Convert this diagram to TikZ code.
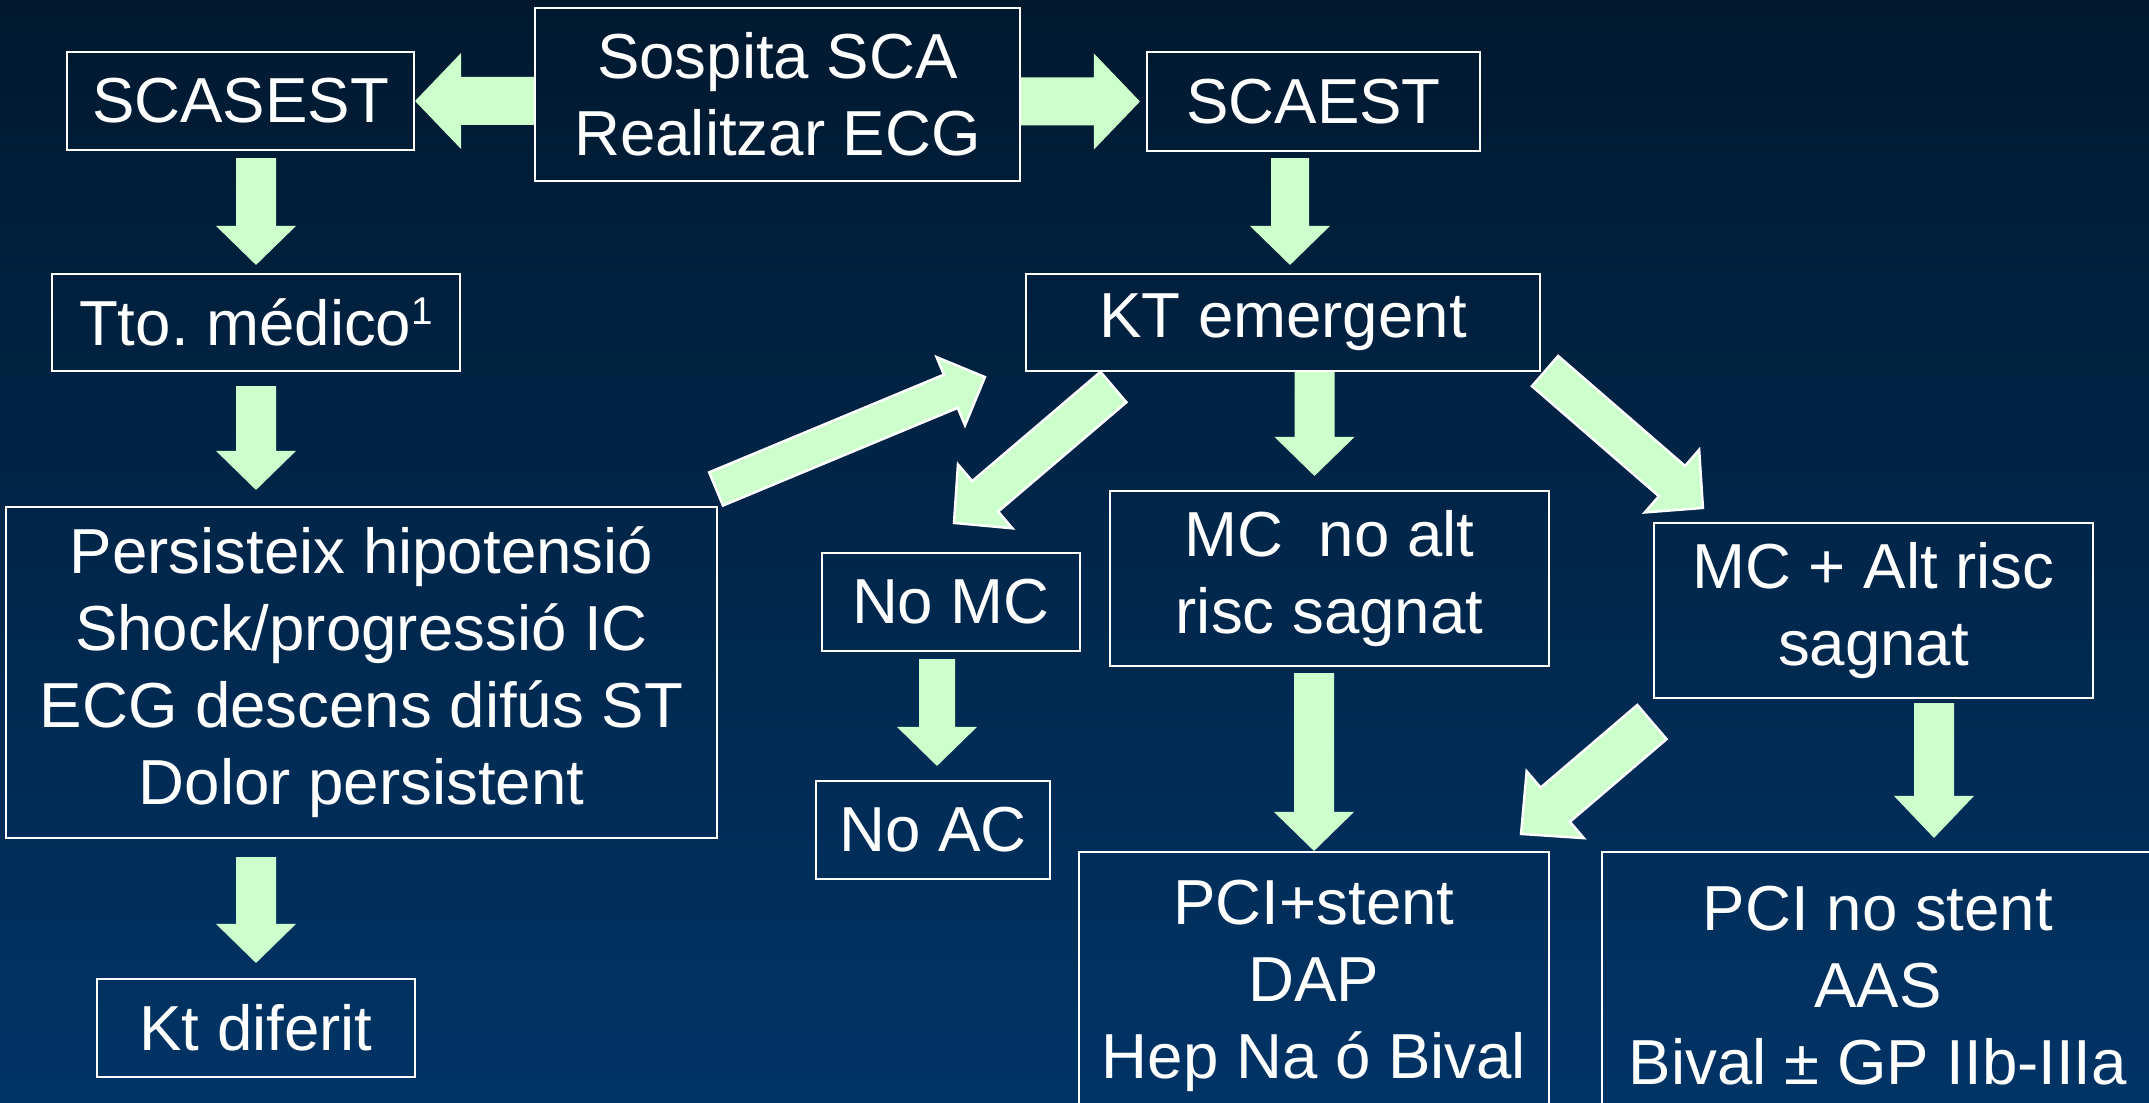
\documentclass[tikz,border=0pt]{standalone}
\usepackage{fontspec}
\setmainfont{Liberation Sans}
\usepackage{tikz}
\usetikzlibrary{calc, positioning}

\definecolor{bgtop}{HTML}{00192F}
\definecolor{bgbot}{HTML}{003466}
\definecolor{arrowgreen}{HTML}{CCFFCC}
\newcommand{\boxfont}{\fontsize{18.1}{21.9}\selectfont}
\newcommand{\supone}{\raisebox{0.33em}{\fontsize{11}{11}\selectfont 1}}

% block arrow: tail point, tip point
\newcommand{\blockarrow}[3][]{%
  \begin{scope}[#1]
    \coordinate (ba-s) at (#2);
    \coordinate (ba-e) at (#3);
    \coordinate (ba-b) at ($(ba-e)!\balen!(ba-s)$);
    \path[flow, #1] ($(ba-s)!\bashaft!90:(ba-e)$) -- ($(ba-b)!\bashaft!90:(ba-e)$)
      -- ($(ba-b)!\bahead!90:(ba-e)$) -- (ba-e) -- ($(ba-b)!\bahead!-90:(ba-e)$)
      -- ($(ba-b)!\bashaft!-90:(ba-e)$) -- ($(ba-s)!\bashaft!-90:(ba-e)$) -- cycle;
  \end{scope}}

\begin{document}
\begin{tikzpicture}
\tikzset{
  ba shaft/.store in=\bashaft, ba head/.store in=\bahead, ba len/.store in=\balen,
  ba shaft=0.2cm, ba head=0.4cm, ba len=0.39cm,
  flow/.style={fill=arrowgreen},
  flowedge/.style={draw=white, line width=0.7pt, line join=miter},
  wide/.style={ba shaft=0.24cm, ba head=0.48cm, ba len=0.46cm},
  box/.style={draw=white, line width=0.6pt, inner sep=0pt, align=center,
    text=white, font=\boxfont},
}
  \useasboundingbox (0,0) rectangle (21.49,-11.03);
  \clip (0,0) rectangle (21.49,-11.03);
  \shade[top color=bgtop, bottom color=bgbot] (0,0) rectangle (21.49,-11.03);

  % top row
  \node[box, minimum width=4.85cm, minimum height=1.73cm] (sospita) at (7.775,-0.945)
    {Sospita SCA\\Realitzar ECG};
  \node[box, minimum width=3.47cm, minimum height=0.98cm] (scasest) at (2.405,-1.01) {SCASEST};
  \node[box, minimum width=3.33cm, minimum height=0.99cm] (scaest) at (13.135,-1.015) {SCAEST};

  % left branch
  \node[box, minimum width=4.08cm, minimum height=0.97cm] (tto) at (2.56,-3.225)
    {Tto.\ médico\supone};
  \node[box, minimum width=7.11cm, minimum height=3.31cm] (persist) at (3.615,-6.725)
    {Persisteix hipotensió\\Shock/progressió IC\\ECG descens difús ST\\Dolor persistent};
  \node[box, minimum width=3.18cm, minimum height=0.98cm] (ktdif) at (2.56,-10.28) {Kt diferit};

  % right branch
  \node[box, minimum width=5.14cm, minimum height=0.97cm] (kt) at (12.83,-3.225) {KT emergent};
  \node[box, minimum width=2.58cm, minimum height=0.98cm] (nomc) at (9.51,-6.02) {No MC};
  \node[box, minimum width=2.34cm, minimum height=0.98cm] (noac) at (9.33,-8.30) {No AC};
  \node[box, minimum width=4.39cm, minimum height=1.75cm] (mcno) at (13.295,-5.785)
    {MC~ no alt\\risc sagnat};
  \node[box, minimum width=4.39cm, minimum height=1.75cm] (mcalt) at (18.735,-6.105)
    {MC + Alt risc\\sagnat};
  \node[box, minimum width=4.70cm, minimum height=2.68cm] (pcistent) at (13.14,-9.86)
    {PCI+stent\\DAP\\Hep Na ó Bival};
  \node[box, minimum width=5.52cm, minimum height=2.68cm] (pcinostent) at (18.78,-9.86)
    {PCI no stent\\AAS\\Bival ± GP IIb-IIIa};

  % arrows
  \blockarrow[wide]{sospita.west |- scasest.east}{scasest.east}
  \blockarrow[wide]{sospita.east |- scaest.west}{$(scaest.west)+(-0.06,0)$}
  \blockarrow{$(tto.north |- scasest.south)+(0,-0.07)$}{$(tto.north)+(0,0.08)$}
  \blockarrow{$(tto.south)+(0,-0.14)$}{$(tto.south |- persist.north)+(0,0.16)$}
  \blockarrow{$(ktdif.north |- persist.south)+(0,-0.18)$}{$(ktdif.north)+(0,0.15)$}
  \blockarrow[ba shaft=0.19cm]{$(scaest.south)+(-0.235,-0.06)$}{$(kt.north)+(0.07,0.08)$}
  \blockarrow[ba shaft=0.18cm]{$(noac.north |- nomc.south)+(0.04,-0.07)$}{$(noac.north)+(0.04,0.14)$}
  \blockarrow{$(kt.south)+(0.315,0)$}{$(mcno.north)+(-0.15,0.14)$}
  \blockarrow{$(pcistent.north |- mcno.south)+(0,-0.06)$}{pcistent.north}
  \blockarrow[ba len=0.42cm]{$(mcalt.south)+(0.605,-0.04)$}{$(pcinostent.north)+(0.56,0.13)$}

  % diagonal arrows
  \blockarrow[flowedge, ba shaft=0.18cm, ba head=0.37cm, ba len=0.37cm]
    {$(persist.north east)+(-0.02,0.17)$}{$(kt.south west)+(-0.40,-0.05)$}
  \blockarrow[flowedge, ba head=0.42cm, ba len=0.41cm]
    {$(kt.south west)+(0.885,-0.15)$}{$(nomc.north)+(0.03,0.29)$}
  \blockarrow[flowedge, ba head=0.415cm, ba len=0.41cm]
    {$(kt.south east)+(0.04,0.01)$}{$(mcalt.north west)+(0.50,0.14)$}
  \blockarrow[flowedge, ba shaft=0.225cm, ba head=0.44cm, ba len=0.45cm]
    {$(mcalt.south west)+(-0.01,-0.23)$}{$(pcistent.north east)+(-0.29,0.17)$}
\end{tikzpicture}
\end{document}
